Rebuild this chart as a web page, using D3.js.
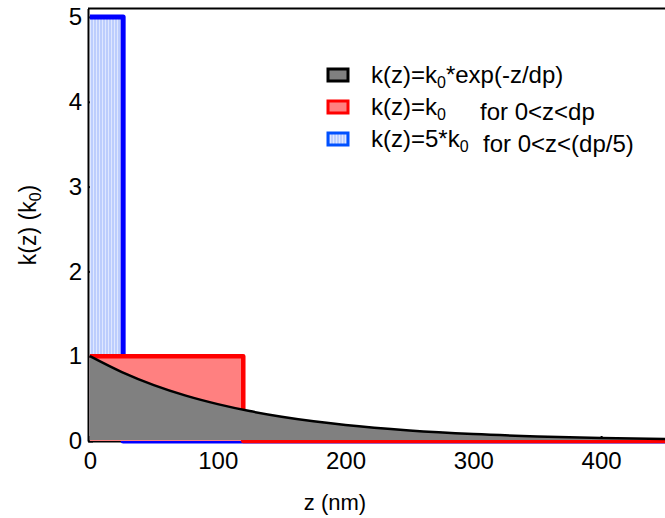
<!DOCTYPE html>
<html>
<head>
<meta charset="utf-8">
<script src="https://cdn.jsdelivr.net/npm/d3@7"></script>
<style>
  body { margin: 0; background: #fff; }
  svg { display: block; font-family: "Liberation Sans", Arial, sans-serif; }
  .axis path, .axis line { stroke: #000; stroke-width: 2; }
  .axis text { font-size: 24px; fill: #000; }
</style>
</head>
<body>
<div class="chart"></div>
<script>
'use strict';

// values
const zExp = [0, 25, 50, 75, 100, 125, 150, 175, 200, 250, 300, 350, 400, 450];
const kExp = [1.00, 0.812, 0.659, 0.535, 0.435, 0.353, 0.287, 0.233, 0.189, 0.125, 0.082, 0.054, 0.036, 0.024];

const zRed = [0, 120, 120, 450];
const kRed = [1, 1, 0, 0];

const zBlue = [0, 26, 26, 450];
const kBlue = [5, 5, 0, 0];

const xTicks = [0, 100, 200, 300, 400];
const yTicks = [0, 1, 2, 3, 4, 5];

const FULL_WIDTH = 665;
const FULL_HEIGHT = 518;

const svg = d3.select('.chart')
  .append('svg')
    .attr('width', FULL_WIDTH)
    .attr('height', FULL_HEIGHT);

const defs = svg.append('defs');

const stripes = defs.append('pattern')
  .attr('id', 'stripes')
  .attr('patternUnits', 'userSpaceOnUse')
  .attr('width', 3)
  .attr('height', 3);
stripes.append('rect')
  .attr('width', 3).attr('height', 3)
  .attr('fill', '#bccdfd');
stripes.append('rect')
  .attr('width', 1).attr('height', 3)
  .attr('fill', '#dfe7ff');

const x = d3.scaleLinear()
  .domain([-1.5, 450])
  .range([88, 665]);

const y = d3.scaleLinear()
  .domain([0, 5.1])
  .range([441, 8.5]);

const pts = (zs, ks) => zs.map((z, i) => [z, ks[i]]);

const area = d3.area()
  .x((d) => x(d[0]))
  .y0(y(0))
  .y1((d) => y(d[1]));

const line = d3.line()
  .x((d) => x(d[0]))
  .y((d) => y(d[1]));

// frame top line
svg.append('line')
  .attr('x1', x(-1.5)).attr('x2', FULL_WIDTH)
  .attr('y1', y(5.1)).attr('y2', y(5.1))
  .attr('stroke', '#000')
  .attr('stroke-width', 2);

svg.append('g')
    .attr('class', 'axis')
    .attr('transform', 'translate(0,' + y(0) + ')')
    .call(d3.axisBottom(x)
      .tickValues(xTicks)
      .tickFormat(d3.format('d'))
      .tickSizeInner(-5)
      .tickSizeOuter(0)
      .tickPadding(11));

svg.append('g')
    .attr('class', 'axis')
    .attr('transform', 'translate(' + x(-1.5) + ',0)')
    .call(d3.axisLeft(y)
      .tickValues(yTicks)
      .tickFormat(d3.format('d'))
      .tickSizeInner(-5)
      .tickSizeOuter(0)
      .tickPadding(6));

// blue step
const blue = pts(zBlue, kBlue);
svg.append('path')
  .attr('d', area(blue))
  .attr('fill', 'url(#stripes)');
svg.append('path')
  .attr('d', line(blue))
  .attr('fill', 'none')
  .attr('stroke', '#0000ff')
  .attr('stroke-width', 5)
  .attr('stroke-linejoin', 'round');

// red step
const red = pts(zRed, kRed);
svg.append('path')
  .attr('d', area(red))
  .attr('fill', '#ff8080');
svg.append('path')
  .attr('d', line(red))
  .attr('fill', 'none')
  .attr('stroke', '#ff0000')
  .attr('stroke-width', 4.5)
  .attr('stroke-linejoin', 'round');

// exponential
const expPts = pts(zExp, kExp);
const curveArea = d3.area()
  .x((d) => x(d[0]))
  .y0(y(0) - 1)
  .y1((d) => y(d[1]))
  .curve(d3.curveMonotoneX);
const curveLine = d3.line()
  .x((d) => x(d[0]))
  .y((d) => y(d[1]))
  .curve(d3.curveMonotoneX);
svg.append('path')
  .attr('d', curveArea(expPts))
  .attr('fill', '#808080');
svg.append('path')
  .attr('d', curveLine(expPts))
  .attr('fill', 'none')
  .attr('stroke', '#000')
  .attr('stroke-width', 2.5);

// axis titles
svg.append('text')
  .attr('x', 335)
  .attr('y', 510)
  .attr('text-anchor', 'middle')
  .attr('font-size', 22)
  .text('z (nm)');

const yTitle = svg.append('text')
  .attr('transform', 'translate(36,225) rotate(-90)')
  .attr('text-anchor', 'middle')
  .attr('font-size', 23);
yTitle.append('tspan').text('k(z) (k');
yTitle.append('tspan').attr('font-size', 16).attr('dy', 5).text('0');
yTitle.append('tspan').attr('dy', -5).text(')');

// legend
const legend = [
  {fill: '#808080', stroke: '#000', parts: ['k(z)=k', '0', '*exp(-z/dp)'], forX: null},
  {fill: '#ff8080', stroke: '#ff0000', parts: ['k(z)=k', '0', ''], tail: 'for 0<z<dp', forX: 480},
  {fill: 'url(#stripes)', stroke: '#0050ff', parts: ['k(z)=5*k', '0', ''], tail: 'for 0<z<(dp/5)', forX: 483}
];

const lg = svg.selectAll('.legend')
  .data(legend)
  .enter()
  .append('g')
  .attr('class', 'legend')
  .attr('transform', (d, i) => 'translate(0,' + (75 + i * 32) + ')');

lg.append('rect')
  .attr('x', 328)
  .attr('y', -6)
  .attr('width', 20)
  .attr('height', 12)
  .attr('fill', (d) => d.fill)
  .attr('stroke', (d) => d.stroke)
  .attr('stroke-width', 3);

lg.each(function(d) {
  const t = d3.select(this).append('text')
    .attr('x', 371)
    .attr('y', 8)
    .attr('font-size', 24);
  t.append('tspan').text(d.parts[0]);
  t.append('tspan').attr('font-size', 16).attr('dy', 5).text(d.parts[1]);
  t.append('tspan').attr('dy', -5).text(d.parts[2]);
  if (d.tail) {
    t.append('tspan').attr('x', d.forX).text(d.tail);
  }
});
</script>
</body>
</html>
